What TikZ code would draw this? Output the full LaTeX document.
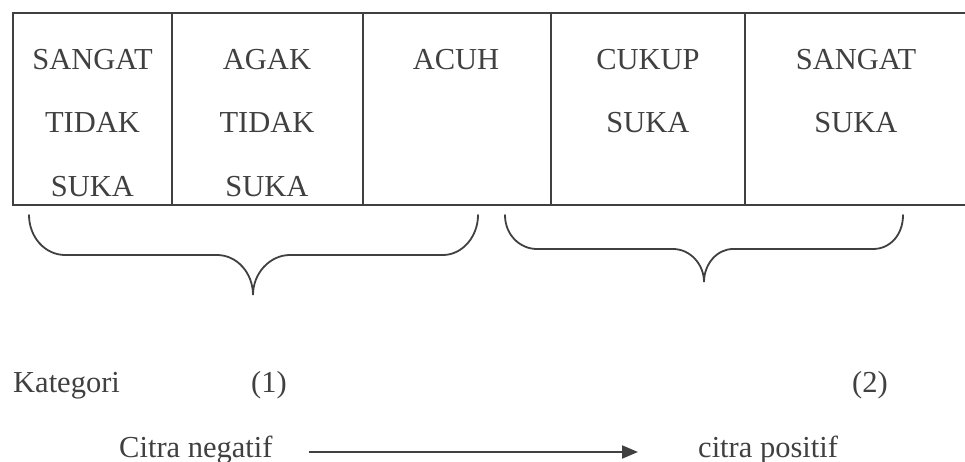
\documentclass[tikz,border=0pt]{standalone}
\usepackage{fontspec}
\setmainfont{Liberation Serif}
\usetikzlibrary{calc,arrows.meta}
\definecolor{ink}{HTML}{404040}
\begin{document}
\begin{tikzpicture}[x=1pt,y=-1pt,
  grid/.style={draw=ink,line width=2pt},
  bracepath/.style={draw=ink,line width=1.8pt,line cap=round},
  label/.style={inner sep=0pt,text=ink,font=\fontsize{30.5}{36}\selectfont},
  cell/.style={label,anchor=base},
  arr/.style={draw=ink,line width=2pt,-{Triangle[length=16pt,width=13pt]}}]
\useasboundingbox (0,0) rectangle (965,462);

% scale table
\draw[grid] (965,12.7) -- (13,12.7) -- (13,205) -- (965,205);
\foreach \xx in {172,362.5,551,745}{\draw[grid] (\xx,12.7) -- (\xx,205);}

% column texts
\node[cell] (c1a) at (92.5,70) {SANGAT};
\node[cell] (c1b) at (92.5,133) {TIDAK};
\node[cell] (c1c) at (92.5,197) {SUKA};
\node[cell] (c2a) at (267,70) {AGAK};
\node[cell] (c2b) at (267,133) {TIDAK};
\node[cell] (c2c) at (267,197) {SUKA};
\node[cell] (c3a) at (456,70) {ACUH};
\node[cell] (c4a) at (648,70) {CUKUP};
\node[cell] (c4b) at (648,133) {SUKA};
\node[cell] (c5a) at (856,70) {SANGAT};
\node[cell] (c5b) at (856,133) {SUKA};

% grouping braces
\draw[bracepath] (29,215) .. controls (29,237) and (45,255) .. (65,255)
  -- (217,255) .. controls (237,255) and (253,273) .. (253,295)
  .. controls (253,273) and (270,255) .. (290,255)
  -- (443,255) .. controls (462,255) and (478,237) .. (478,215);
\draw[bracepath] (505,215) .. controls (505,235) and (520,249) .. (537,249)
  -- (673,249) .. controls (690,249) and (704,264) .. (704,282)
  .. controls (704,264) and (717,249) .. (733,249)
  -- (873,249) .. controls (890,249) and (903,235) .. (903,215);

% category labels
\node[label,anchor=base west] (kat) at (13,392) {Kategori};
\node[cell] (k1) at (269,392) {(1)};
\node[cell] (k2) at (870,392) {(2)};

% direction of the image
\node[label,anchor=base west] (neg) at (119,457) {Citra negatif};
\node[label,anchor=base west] (pos) at (698,457) {citra positif};
\draw[arr] ($(neg.base east)+(36,-5)$) -- ($(pos.base west)+(-60,-5)$);
\end{tikzpicture}
\end{document}
